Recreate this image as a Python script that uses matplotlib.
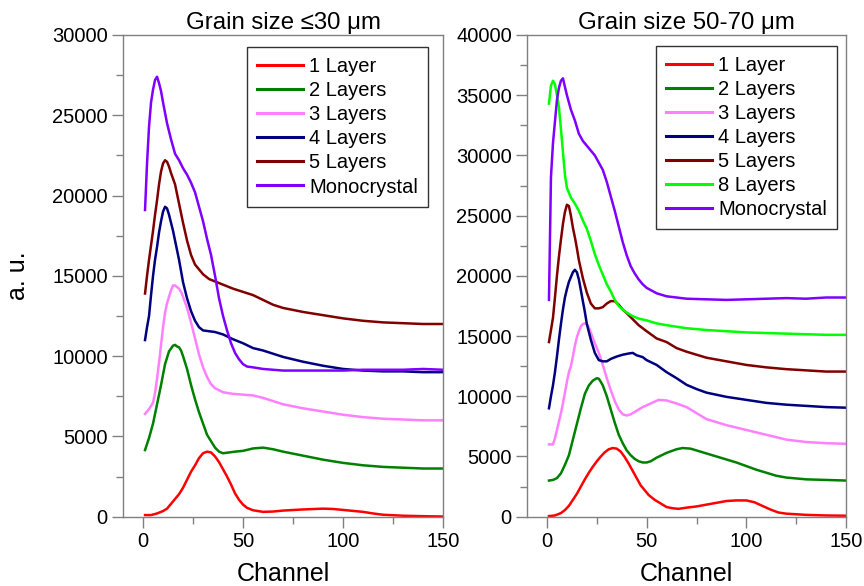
import matplotlib as mpl
mpl.use('Agg')
import matplotlib.pyplot as plt
from matplotlib.ticker import MultipleLocator

plt.rcParams['font.family'] = ['Liberation Sans', 'DejaVu Sans']

# ---- left panel: grain size <=30 um ----
L1_ch = [1, 4, 7, 10, 12, 14, 16, 18, 20, 22, 24, 26, 28, 30, 32, 34, 36, 38, 40, 42, 44, 46, 48, 50, 52, 55, 60, 65, 70, 80, 90, 95, 100, 110, 115, 120, 130, 140, 150]
L1_y = [100, 100, 200, 350, 500, 800, 1100, 1400, 1800, 2300, 2800, 3200, 3650, 3950, 4050, 4000, 3750, 3400, 2950, 2500, 2000, 1450, 1050, 750, 550, 400, 300, 320, 380, 450, 500, 480, 420, 300, 200, 120, 60, 30, 10]

L2_ch = [1, 3, 5, 7, 9, 11, 13, 15, 16, 17, 18, 19, 20, 22, 24, 26, 28, 30, 32, 34, 36, 38, 40, 43, 46, 50, 55, 60, 65, 70, 80, 90, 100, 110, 120, 130, 140, 150]
L2_y = [4150, 4900, 5800, 7000, 8200, 9500, 10300, 10650, 10700, 10600, 10550, 10350, 10000, 9200, 8200, 7300, 6500, 5800, 5100, 4700, 4300, 4050, 3950, 4000, 4050, 4100, 4250, 4300, 4200, 4050, 3800, 3550, 3350, 3200, 3100, 3050, 3000, 3000]

L3_ch = [1, 3, 5, 6, 7, 8, 9, 10, 11, 12, 13, 14, 15, 16, 17, 18, 19, 20, 22, 24, 26, 28, 30, 32, 34, 36, 40, 45, 50, 55, 60, 65, 70, 80, 90, 100, 110, 120, 130, 140, 150]
L3_y = [6400, 6700, 7100, 7700, 8600, 9600, 10700, 11800, 12700, 13300, 13700, 14100, 14400, 14400, 14300, 14200, 14000, 13700, 13000, 12100, 11100, 10100, 9300, 8700, 8250, 8000, 7750, 7650, 7600, 7550, 7400, 7200, 7000, 6750, 6550, 6350, 6200, 6100, 6050, 6000, 6000]

L4_ch = [1, 2, 3, 4, 5, 6, 7, 8, 9, 10, 11, 12, 13, 14, 15, 16, 18, 20, 22, 24, 26, 28, 30, 33, 36, 40, 45, 50, 55, 60, 65, 70, 80, 90, 100, 110, 120, 130, 140, 150]
L4_y = [11000, 11800, 12500, 13800, 15000, 16000, 16800, 17700, 18400, 19000, 19300, 19200, 18800, 18300, 17800, 17200, 16000, 14600, 13600, 12800, 12200, 11800, 11600, 11550, 11500, 11350, 11050, 10800, 10500, 10350, 10150, 9950, 9650, 9400, 9200, 9100, 9050, 9050, 9000, 9000]

L5_ch = [1, 2, 3, 4, 5, 6, 7, 8, 9, 10, 11, 12, 13, 14, 16, 18, 20, 22, 24, 26, 28, 30, 33, 36, 40, 45, 50, 55, 60, 65, 70, 80, 90, 100, 110, 120, 130, 140, 150]
L5_y = [13900, 15000, 16000, 16900, 17800, 18800, 19700, 20700, 21500, 22000, 22200, 22100, 21800, 21400, 20700, 19500, 18300, 17200, 16300, 15700, 15400, 15100, 14800, 14650, 14450, 14200, 14000, 13800, 13500, 13200, 13000, 12750, 12550, 12350, 12200, 12100, 12050, 12000, 12000]

LM_ch = [1, 2, 3, 4, 5, 6, 7, 8, 9, 10, 12, 14, 16, 18, 20, 22, 24, 26, 28, 30, 32, 34, 36, 38, 40, 42, 44, 46, 48, 50, 52, 55, 60, 65, 70, 80, 90, 100, 110, 120, 130, 140, 150]
LM_y = [19100, 22000, 24300, 25800, 26600, 27200, 27400, 27000, 26500, 25800, 24500, 23500, 22600, 22200, 21700, 21300, 20800, 20200, 19300, 18400, 17300, 16300, 15000, 13600, 12500, 11600, 10800, 10200, 9800, 9500, 9350, 9300, 9200, 9150, 9100, 9100, 9100, 9100, 9150, 9150, 9150, 9200, 9150]

# ---- right panel: grain size 50-70 um ----
R1_ch = [1, 4, 7, 9, 11, 13, 15, 17, 19, 21, 23, 25, 27, 29, 31, 33, 35, 37, 39, 41, 43, 45, 47, 49, 51, 54, 57, 60, 63, 66, 70, 75, 80, 85, 90, 95, 100, 104, 108, 112, 116, 120, 130, 140, 150]
R1_y = [50, 100, 300, 550, 900, 1400, 1900, 2500, 3100, 3650, 4150, 4600, 5000, 5350, 5600, 5700, 5650, 5400, 4950, 4400, 3800, 3200, 2600, 2200, 1800, 1400, 1100, 800, 700, 650, 750, 850, 1000, 1150, 1300, 1350, 1350, 1200, 900, 600, 350, 250, 150, 100, 80]

R2_ch = [1, 3, 5, 7, 9, 11, 13, 15, 17, 19, 21, 23, 25, 26, 27, 28, 30, 32, 34, 36, 38, 40, 42, 44, 46, 48, 50, 52, 55, 60, 65, 68, 72, 76, 80, 85, 90, 95, 100, 105, 110, 115, 120, 130, 140, 150]
R2_y = [3000, 3050, 3200, 3600, 4300, 5100, 6400, 7700, 9000, 10200, 10900, 11300, 11500, 11450, 11200, 10900, 10000, 8900, 7800, 6800, 6100, 5500, 5100, 4800, 4600, 4500, 4500, 4600, 4900, 5300, 5600, 5700, 5650, 5450, 5250, 5000, 4750, 4500, 4200, 3900, 3650, 3400, 3250, 3100, 3050, 3000]

R3_ch = [1, 3, 4, 5, 6, 7, 8, 9, 10, 11, 12, 13, 14, 15, 16, 17, 18, 19, 20, 21, 22, 24, 26, 28, 30, 32, 34, 36, 38, 40, 42, 45, 48, 52, 56, 60, 65, 70, 75, 80, 90, 100, 110, 120, 130, 140, 150]
R3_y = [6000, 6000, 6500, 7200, 7900, 8600, 9400, 10300, 11200, 12000, 12500, 13300, 14200, 14900, 15400, 15800, 16000, 16050, 16000, 15700, 15300, 14400, 13600, 12600, 11500, 10500, 9600, 8900, 8500, 8400, 8500, 8800, 9100, 9400, 9700, 9650, 9400, 9100, 8600, 8100, 7600, 7200, 6800, 6400, 6200, 6100, 6050]

R4_ch = [1, 2, 3, 4, 5, 6, 7, 8, 9, 10, 11, 12, 13, 14, 15, 16, 17, 18, 19, 20, 22, 24, 26, 28, 30, 32, 35, 38, 41, 43, 45, 48, 50, 55, 60, 65, 70, 75, 80, 90, 100, 110, 120, 130, 140, 150]
R4_y = [9000, 10000, 10900, 12000, 13300, 14700, 16000, 17200, 18200, 18900, 19500, 19900, 20300, 20500, 20300, 19700, 18800, 17900, 17000, 16000, 14700, 13600, 13000, 12900, 12900, 13100, 13300, 13450, 13550, 13600, 13400, 13250, 13000, 12600, 12000, 11500, 10950, 10600, 10300, 9950, 9700, 9450, 9300, 9200, 9100, 9050]

R5_ch = [1, 2, 3, 4, 5, 6, 7, 8, 9, 10, 11, 12, 13, 14, 15, 16, 18, 20, 22, 24, 26, 28, 30, 32, 34, 36, 38, 40, 43, 46, 50, 55, 60, 65, 70, 80, 90, 100, 110, 120, 130, 140, 150]
R5_y = [14500, 15500, 16500, 18200, 20000, 21600, 23000, 24300, 25300, 25900, 25800, 25000, 24000, 23200, 22300, 21300, 19800, 18600, 17700, 17300, 17300, 17400, 17700, 17900, 17900, 17600, 17200, 16900, 16400, 15900, 15400, 14800, 14500, 14000, 13700, 13200, 12900, 12600, 12400, 12250, 12150, 12050, 12050]

R8_ch = [1, 2, 3, 4, 5, 6, 7, 8, 9, 10, 12, 14, 16, 18, 20, 22, 24, 26, 28, 30, 32, 34, 36, 38, 40, 43, 46, 50, 55, 60, 70, 80, 90, 100, 110, 120, 130, 140, 150]
R8_y = [34300, 35800, 36200, 35900, 35000, 34000, 32200, 30300, 28400, 27300, 26500, 26000, 25400, 24600, 23900, 22900, 21800, 20900, 20100, 19300, 18700, 18000, 17500, 17200, 16950, 16650, 16450, 16300, 16050, 15900, 15650, 15500, 15400, 15300, 15250, 15200, 15150, 15100, 15100]

RM_ch = [1, 2, 3, 4, 5, 6, 7, 8, 9, 10, 12, 14, 16, 18, 20, 22, 24, 26, 28, 30, 32, 34, 36, 38, 40, 42, 44, 46, 48, 50, 55, 60, 70, 80, 90, 100, 110, 120, 130, 140, 150]
RM_y = [18000, 28200, 31000, 32800, 34600, 35600, 36200, 36400, 35700, 35000, 33800, 32900, 31800, 31200, 30800, 30400, 30000, 29400, 28800, 27800, 26600, 25400, 24100, 22800, 21700, 20800, 20200, 19700, 19300, 19000, 18550, 18300, 18100, 18050, 18000, 18050, 18100, 18150, 18100, 18200, 18200]

c_red, c_green, c_pink = '#ff0000', '#008000', '#ff80ff'
c_navy, c_maroon, c_lime, c_violet = '#000080', '#800000', '#00ff00', '#8000ff'

left_series = [(L1_ch, L1_y, c_red, '1 Layer'), (L2_ch, L2_y, c_green, '2 Layers'),
               (L3_ch, L3_y, c_pink, '3 Layers'), (L4_ch, L4_y, c_navy, '4 Layers'),
               (L5_ch, L5_y, c_maroon, '5 Layers'), (LM_ch, LM_y, c_violet, 'Monocrystal')]
right_series = [(R1_ch, R1_y, c_red, '1 Layer'), (R2_ch, R2_y, c_green, '2 Layers'),
                (R3_ch, R3_y, c_pink, '3 Layers'), (R4_ch, R4_y, c_navy, '4 Layers'),
                (R5_ch, R5_y, c_maroon, '5 Layers'), (R8_ch, R8_y, c_lime, '8 Layers'),
                (RM_ch, RM_y, c_violet, 'Monocrystal')]

fig = plt.figure(figsize=(8.64, 5.86), dpi=100)
axL = fig.add_axes([0.1424, 0.1183, 0.3704, 0.822])
axR = fig.add_axes([0.6100, 0.1183, 0.3692, 0.822])

def style(ax, ymax, ystep, title, anchor):
    ax.set_xlim(-10, 150)
    ax.set_ylim(0, ymax)
    ax.xaxis.set_major_locator(MultipleLocator(50))
    ax.xaxis.set_minor_locator(MultipleLocator(25))
    ax.yaxis.set_major_locator(MultipleLocator(ystep))
    ax.yaxis.set_minor_locator(MultipleLocator(ystep / 2))
    for s in ax.spines.values():
        s.set_color('#808080')
        s.set_linewidth(1.0)
    ax.tick_params(which='both', direction='out', color='#808080', labelsize=14.5, top=False, right=False)
    ax.tick_params(which='major', length=8, width=1, pad=3)
    ax.tick_params(which='minor', length=5, width=1)
    ax.set_xlabel('Channel', fontsize=18, labelpad=8)
    ax.set_title(title, fontsize=17.3, pad=4)
    leg = ax.legend(loc='upper right', bbox_to_anchor=anchor, borderaxespad=0, fontsize=14.5,
                    frameon=True, fancybox=False, framealpha=1, edgecolor='#333333',
                    handlelength=2.3, handletextpad=0.3, labelspacing=0.25, borderpad=0.5)
    leg.get_frame().set_linewidth(1.0)
    for ln in leg.get_lines():
        ln.set_linewidth(2.2)

for ch, y, col, lab in left_series:
    axL.plot(ch, y, color=col, lw=1.8, label=lab)
for ch, y, col, lab in right_series:
    axR.plot(ch, y, color=col, lw=1.8, label=lab)

style(axL, 30000, 5000, 'Grain size \u226430 \u03bcm', (0.953, 0.9745))
style(axR, 40000, 5000, 'Grain size 50-70 \u03bcm', (0.972, 0.978))
axL.set_ylabel('a. u.', fontsize=18, labelpad=16)

fig.savefig('out.png', dpi=100)
